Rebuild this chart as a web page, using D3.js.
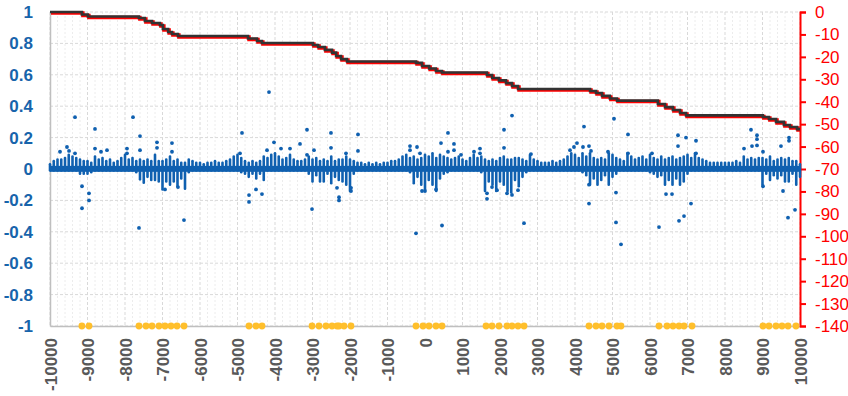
<!DOCTYPE html>
<html>
<head>
<meta charset="utf-8">
<script src="https://cdn.jsdelivr.net/npm/d3@7"></script>
<style>
    body { margin: 0; background: #fff; }
    text { font-family: "Liberation Sans", Arial, sans-serif; }
</style>
</head>
<body>
<script>
// ---- data ----
// step series on the right axis (level changes at each x)
const stepX = [-10000, -9150, -8990, -7630, -7470, -7280, -7070, -6990, -6850, -6750, -6590,
    -4720, -4480, -4350, -2990, -2850, -2670, -2480, -2370, -2240, -2080,
    -240, -80, 110, 290, 450, 1650, 1790, 1970, 2160, 2320, 2480,
    4400, 4560, 4720, 4930, 5120, 6210, 6400, 6610, 6800, 6960,
    9010, 9170, 9360, 9570, 9730, 9920, 10000];
const stepY = [0, -1.1, -2.0, -2.7, -4.0, -4.9, -5.8, -7.6, -8.9, -9.8, -10.7,
    -11.8, -12.9, -13.8, -14.7, -15.6, -16.9, -18.1, -19.6, -21.0, -22.1,
    -22.7, -24.1, -25.2, -26.3, -27.0, -28.1, -29.4, -30.5, -31.7, -33.0, -34.3,
    -35.2, -36.1, -37.4, -38.6, -39.5, -41.0, -42.4, -43.7, -45.0, -46.1,
    -46.8, -47.7, -49.0, -50.4, -51.3, -52.2, -52.2];

// event markers sitting on -1
const eventX = [-9150, -8960,
    -7627, -7440, -7280, -7093, -6933, -6773, -6613, -6427,
    -4693, -4507, -4347,
    -3013, -2827, -2640, -2480, -2347, -2293, -2160, -1973,
    -240, -53, 107, 293, 453,
    1627, 1787, 1973, 2187, 2320, 2480, 2640,
    4373, 4560, 4720, 4907, 5120, 5227,
    6240, 6453, 6613, 6773, 6907, 7120,
    9013, 9173, 9360, 9520, 9680, 9893];

// dense cloud near zero: one column per 100-unit bin starting at -10000
const binStart = -10000, binWidth = 100;
const colTop = [
    0.03, 0.05, 0.06, 0.06, 0.07, 0.09, 0.08, 0.07, 0.06, 0.05,
    0.05, 0.04, 0.08, 0.06, 0.07, 0.05, 0.06, 0.04, 0.05, 0.07,
    0.09, 0.06, 0.07, 0.05, 0.06, 0.05, 0.06, 0.05, 0.09, 0.05,
    0.05, 0.06, 0.08, 0.05, 0.06, 0.04, 0.04, 0.06, 0.05, 0.04,
    0.04, 0.03, 0.04, 0.04, 0.05, 0.04, 0.04, 0.05, 0.06, 0.08,
    0.09, 0.07, 0.05, 0.04, 0.05, 0.04, 0.05, 0.08, 0.07, 0.09,
    0.10, 0.08, 0.06, 0.07, 0.09, 0.06, 0.05, 0.05, 0.06, 0.08,
    0.06, 0.07, 0.05, 0.06, 0.05, 0.08, 0.05, 0.06, 0.06, 0.08,
    0.06, 0.05, 0.04, 0.04, 0.03, 0.04, 0.03, 0.04, 0.03, 0.04,
    0.04, 0.05, 0.05, 0.06, 0.08, 0.09, 0.07, 0.08, 0.06, 0.07,
    0.09, 0.08, 0.10, 0.07, 0.09, 0.08, 0.07, 0.06, 0.07, 0.08,
    0.06, 0.05, 0.07, 0.09, 0.07, 0.08, 0.06, 0.05, 0.06, 0.05,
    0.07, 0.08, 0.06, 0.06, 0.07, 0.07, 0.06, 0.05, 0.09, 0.06,
    0.05, 0.04, 0.04, 0.04, 0.05, 0.04, 0.05, 0.06, 0.08, 0.10,
    0.09, 0.07, 0.10, 0.08, 0.10, 0.07, 0.06, 0.07, 0.06, 0.10,
    0.09, 0.07, 0.06, 0.05, 0.10, 0.08, 0.06, 0.07, 0.08, 0.06,
    0.09, 0.07, 0.06, 0.08, 0.06, 0.07, 0.08, 0.06, 0.07, 0.08,
    0.09, 0.07, 0.10, 0.07, 0.06, 0.05, 0.04, 0.04, 0.04, 0.04,
    0.04, 0.04, 0.04, 0.05, 0.04, 0.08, 0.06, 0.07, 0.06, 0.07,
    0.07, 0.06, 0.08, 0.05, 0.06, 0.07, 0.06, 0.07, 0.05, 0.05, 0.03];
const colBottom = [
    -0.01, -0.01, -0.01, -0.01, -0.01, -0.01, -0.01, -0.01, -0.03, -0.03,
    -0.03, -0.02, -0.01, -0.01, -0.01, -0.01, -0.01, -0.01, -0.01, -0.01,
    -0.01, -0.01, -0.01, -0.02, -0.066, -0.087, -0.05, -0.07, -0.07, -0.08,
    -0.13, -0.08, -0.10, -0.08, -0.11, -0.06, -0.125, -0.02, -0.01, -0.01,
    -0.01, -0.01, -0.01, -0.01, -0.01, -0.01, -0.01, -0.01, -0.01, -0.01,
    -0.01, -0.02, -0.03, -0.05, -0.03, -0.06, -0.03, -0.07, -0.01, -0.01,
    -0.01, -0.01, -0.01, -0.01, -0.01, -0.01, -0.01, -0.01, -0.01, -0.03,
    -0.08, -0.04, -0.08, -0.08, -0.03, -0.09, -0.05, -0.07, -0.08, -0.10,
    -0.14, -0.03, -0.01, -0.01, -0.01, -0.01, -0.01, -0.01, -0.01, -0.01,
    -0.01, -0.01, -0.01, -0.01, -0.01, -0.01, -0.02, -0.09, -0.05, -0.10,
    -0.13, -0.07, -0.10, -0.14, -0.06, -0.03, -0.02, -0.01, -0.01, -0.01,
    -0.01, -0.01, -0.01, -0.01, -0.01, -0.02, -0.14, -0.08, -0.10, -0.14,
    -0.08, -0.10, -0.14, -0.15, -0.07, -0.11, -0.05, -0.02, -0.01, -0.01,
    -0.01, -0.01, -0.01, -0.01, -0.01, -0.01, -0.01, -0.01, -0.01, -0.01,
    -0.01, -0.01, -0.02, -0.04, -0.10, -0.06, -0.10, -0.07, -0.04, -0.10,
    -0.05, -0.03, -0.01, -0.01, -0.01, -0.01, -0.01, -0.01, -0.01, -0.01,
    -0.02, -0.03, -0.05, -0.04, -0.10, -0.07, -0.10, -0.06, -0.10, -0.08,
    -0.03, -0.01, -0.01, -0.01, -0.01, -0.01, -0.01, -0.01, -0.01, -0.01,
    -0.01, -0.01, -0.01, -0.01, -0.01, -0.01, -0.01, -0.01, -0.01, -0.01,
    -0.10, -0.03, -0.07, -0.04, -0.06, -0.04, -0.08, -0.08, -0.03, -0.10, -0.05];
const zeroBand = [-0.018, 0.02];

// isolated scatter points [x, value]
const outliers = [
    [-9733, 0.11], [-9547, 0.14], [-9493, 0.115], [-9333, 0.33], [-9333, 0.10],
    [-8800, 0.255], [-8800, 0.13], [-8640, 0.11], [-8480, 0.12], [-7947, 0.13], [-7947, 0.10],
    [-7787, 0.33], [-7600, 0.21], [-7600, 0.12], [-7147, 0.17], [-7147, 0.135],
    [-6747, 0.165], [-6747, 0.11], [-4880, 0.23], [-4933, 0.10], [-4160, 0.49],
    [-4027, 0.17], [-3840, 0.13], [-4213, 0.12], [-3600, 0.13], [-3333, 0.16],
    [-3147, 0.25], [-3147, 0.09], [-2960, 0.12], [-2507, 0.23], [-2507, 0.135],
    [-2107, 0.10], [-1787, 0.22], [-1787, 0.115], [-400, 0.146], [-400, 0.12],
    [-213, 0.14], [-133, 0.10], [427, 0.165], [613, 0.23], [613, 0.11], [773, 0.16],
    [773, 0.12], [960, 0.09], [1307, 0.11], [1467, 0.10], [1467, 0.13], [2107, 0.25],
    [2107, 0.135], [2320, 0.34], [2827, 0.095], [3867, 0.12], [3973, 0.14], [4053, 0.165],
    [4213, 0.14], [4240, 0.27], [4373, 0.146], [4427, 0.115], [4880, 0.11], [5040, 0.32],
    [5413, 0.22], [5413, 0.10], [6053, 0.10], [6747, 0.215], [6747, 0.146], [6960, 0.20],
    [7227, 0.18], [7227, 0.10], [8507, 0.13], [8693, 0.25], [8720, 0.146], [8853, 0.215],
    [8853, 0.19], [8853, 0.15], [9013, 0.11], [9493, 0.146], [9707, 0.20], [9707, 0.18],
    [-9147, -0.11], [-9147, -0.25], [-8960, -0.155], [-8960, -0.20], [-7627, -0.375],
    [-6933, -0.13], [-6427, -0.325], [-6587, -0.115], [-4693, -0.166], [-4693, -0.21],
    [-4507, -0.13], [-4347, -0.16], [-3013, -0.255], [-2347, -0.12], [-2293, -0.18],
    [-2293, -0.20], [-1973, -0.14], [-1973, -0.12], [-240, -0.41], [-80, -0.14],
    [0, -0.14], [293, -0.13], [453, -0.36], [1653, -0.155], [1653, -0.19], [1787, -0.115],
    [1920, -0.135], [2187, -0.155], [2320, -0.165], [2480, -0.135], [2640, -0.345],
    [4373, -0.22], [4373, -0.10], [5093, -0.15], [5093, -0.34], [5227, -0.48],
    [6240, -0.37], [6427, -0.16], [6587, -0.16], [6773, -0.33], [6907, -0.30],
    [7093, -0.22], [9013, -0.11], [9547, -0.14], [9680, -0.31], [9867, -0.26]];

const xTicks = [-10000, -9000, -8000, -7000, -6000, -5000, -4000, -3000, -2000, -1000, 0,
    1000, 2000, 3000, 4000, 5000, 6000, 7000, 8000, 9000, 10000];
const leftTicks = [-1, -0.8, -0.6, -0.4, -0.2, 0, 0.2, 0.4, 0.6, 0.8, 1];
const rightTicks = [0, -10, -20, -30, -40, -50, -60, -70, -80, -90, -100, -110, -120, -130, -140];

// ---- layout ----
let margin = { top: 12, right: 48, bottom: 70, left: 50 }, width = 750, height = 314;

let xScale = d3.scaleLinear().domain([-10000, 10000]).range([0, width]);
let yLeft = d3.scaleLinear().domain([-1, 1]).range([height, 0]);
let yRight = d3.scaleLinear().domain([-140, 0]).range([height, 0]);

let svg = d3.select("body").append("svg")
    .attr("width", 848)
    .attr("height", 396)
    .append("g")
    .attr("transform", "translate(" + margin.left + "," + margin.top + ")");

// grid: minor every 200, major every 1000
let minorX = d3.range(-10000, 10001, 200).filter(d => d % 1000 !== 0);
svg.append("g").selectAll("line").data(minorX).enter().append("line")
    .attr("x1", d => xScale(d)).attr("x2", d => xScale(d))
    .attr("y1", 0).attr("y2", height)
    .attr("stroke", "#ececec").attr("stroke-dasharray", "2,2");
svg.append("g").selectAll("line").data(xTicks).enter().append("line")
    .attr("x1", d => xScale(d)).attr("x2", d => xScale(d))
    .attr("y1", 0).attr("y2", height)
    .attr("stroke", "#d9d9d9").attr("stroke-dasharray", "3,2");
svg.append("g").selectAll("line").data(leftTicks).enter().append("line")
    .attr("x1", 0).attr("x2", width)
    .attr("y1", d => yLeft(d)).attr("y2", d => yLeft(d))
    .attr("stroke", "#d9d9d9").attr("stroke-dasharray", "3,2");

// axes
let gx = svg.append("g")
    .attr("transform", "translate(0," + height + ")")
    .call(d3.axisBottom(xScale).tickValues(xTicks).tickSize(0).tickFormat(d => String(d)));
gx.select(".domain").attr("stroke", "#bfbfbf").attr("stroke-width", 1.5);
gx.selectAll("text")
    .attr("transform", "rotate(-90)")
    .attr("x", -12).attr("y", 0).attr("dy", "0.36em")
    .style("text-anchor", "end")
    .style("font-size", "17px").style("font-weight", "bold")
    .attr("fill", "#595959");

let gl = svg.append("g")
    .call(d3.axisLeft(yLeft).tickValues(leftTicks).tickSize(0).tickPadding(17).tickFormat(d => String(d)));
gl.select(".domain").attr("stroke", "#bfbfbf").attr("stroke-width", 1.5);
gl.selectAll("text")
    .style("font-size", "17px").style("font-weight", "bold")
    .attr("fill", "#1764ab");

let gr = svg.append("g")
    .attr("transform", "translate(" + width + ",0)")
    .call(d3.axisRight(yRight).tickValues(rightTicks).tickSize(6).tickPadding(9).tickFormat(d => String(d)));
gr.select(".domain").attr("stroke", "#ff0000").attr("stroke-width", 2);
gr.selectAll(".tick line").attr("stroke", "#ff0000").attr("stroke-width", 2);
gr.selectAll("text")
    .style("font-size", "17px")
    .attr("fill", "#ff0000");

// scatter cloud
const blue = "#0f60b0";
svg.append("rect")
    .attr("x", xScale(-10000)).attr("width", xScale(10000) - xScale(-10000))
    .attr("y", yLeft(zeroBand[1])).attr("height", yLeft(zeroBand[0]) - yLeft(zeroBand[1]))
    .attr("fill", blue);

svg.append("g").selectAll("line").data(colTop).enter().append("line")
    .attr("x1", (d, i) => xScale(binStart + i * binWidth))
    .attr("x2", (d, i) => xScale(binStart + i * binWidth))
    .attr("y1", d => yLeft(d))
    .attr("y2", (d, i) => yLeft(colBottom[i]))
    .attr("stroke", blue).attr("stroke-width", 2.6).attr("stroke-linecap", "round");

svg.append("g").selectAll("circle").data(outliers).enter().append("circle")
    .attr("cx", d => xScale(d[0]))
    .attr("cy", d => yLeft(d[1]))
    .attr("r", 1.9)
    .attr("fill", blue);

// event markers
svg.append("g").selectAll("circle").data(eventX).enter().append("circle")
    .attr("cx", d => xScale(d))
    .attr("cy", yLeft(-1))
    .attr("r", 3.4)
    .attr("fill", "#ffbf2b");

// step line: red underneath, dark on top
let stepData = stepX.map((x, i) => ({ x: x, v: stepY[i] }));
let line = d3.line()
    .x(d => xScale(d.x))
    .y(d => yRight(d.v))
    .curve(d3.curveStepAfter);

svg.append("path")
    .datum(stepData)
    .attr("d", line)
    .attr("transform", "translate(1,1)")
    .attr("fill", "none").attr("stroke", "#ff0000").attr("stroke-width", 3.5);
svg.append("path")
    .datum(stepData)
    .attr("d", line)
    .attr("fill", "none").attr("stroke", "#333333").attr("stroke-width", 2.6);
</script>
</body>
</html>
